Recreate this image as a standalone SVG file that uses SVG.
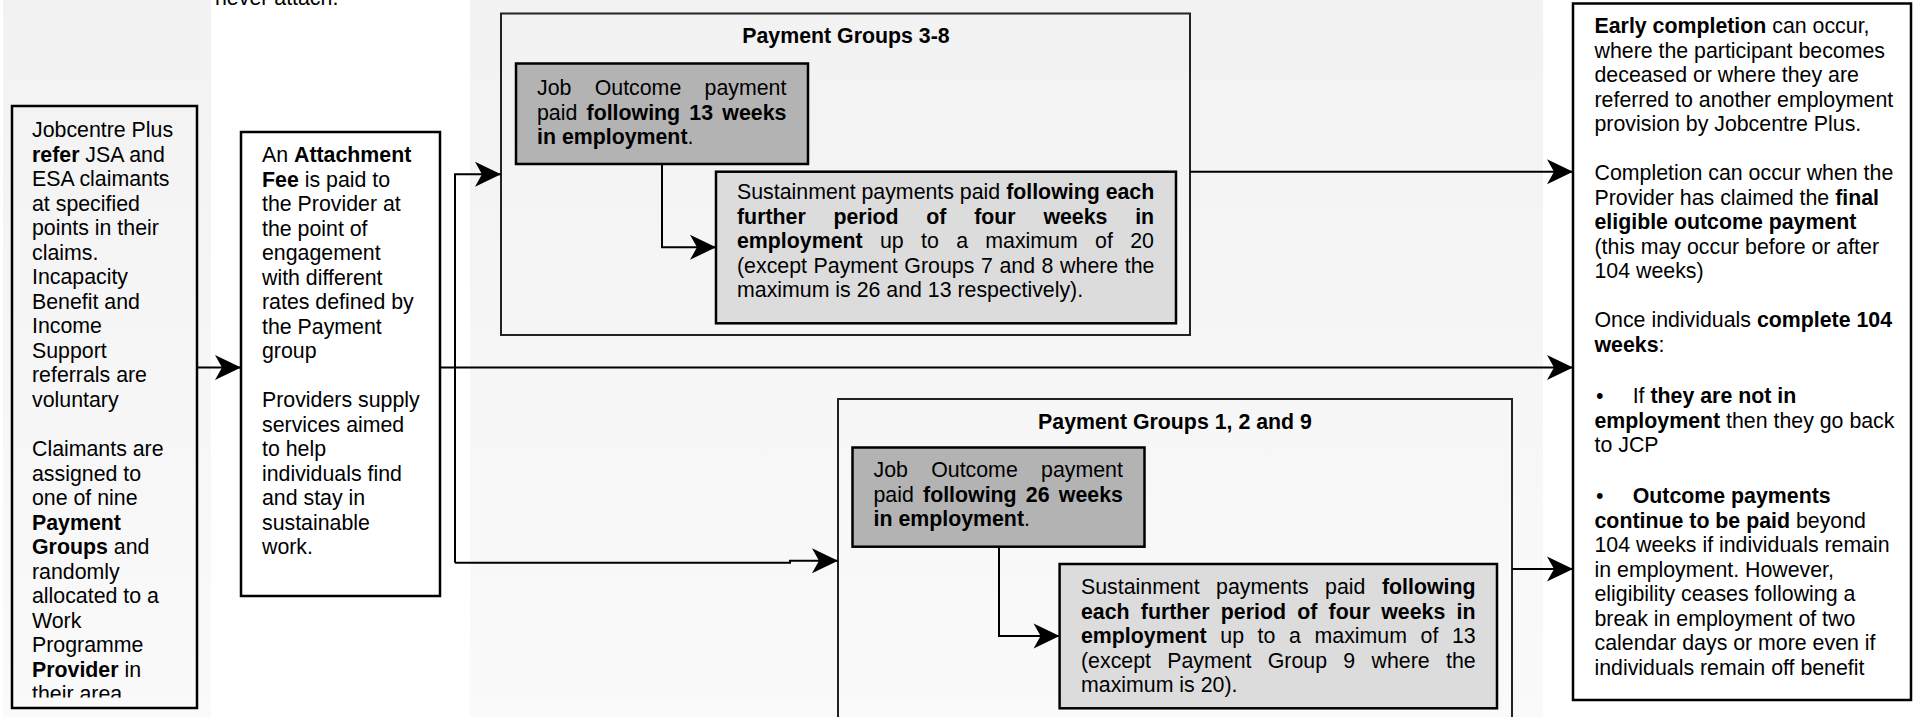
<svg xmlns="http://www.w3.org/2000/svg" width="1915" height="717" viewBox="0 0 1915 717">
<defs>
<linearGradient id="bg" x1="0" y1="0" x2="0" y2="1">
<stop offset="0" stop-color="#f2f2f2"/>
<stop offset="1" stop-color="#fafafa"/>
</linearGradient>
<marker id="arr" markerUnits="userSpaceOnUse" markerWidth="30" markerHeight="30" viewBox="-28 -15 30 30" refX="0" refY="0" orient="auto">
<path d="M0,0 L-26,-12.5 L-19,0 L-26,12.5 Z" fill="#000"/>
</marker>
<clipPath id="clip1"><rect x="12" y="106" width="185" height="591.5"/></clipPath>
</defs>
<style>
text{font-family:"Liberation Sans",Arial,Helvetica,sans-serif;font-size:21.33px;fill:#000}
.b{font-weight:bold}
.box{fill:none;stroke:#000;stroke-width:2.5}
.outer{fill:none;stroke:#222;stroke-width:2}
.job{fill:#b3b3b3;stroke:#000;stroke-width:2.5}
.sus{fill:#dcdcdc;stroke:#000;stroke-width:2.5}
.con{fill:none;stroke:#000;stroke-width:2}
.arr{marker-end:url(#arr)}
</style>
<rect x="0" y="0" width="1915" height="717" fill="#fff"/>
<rect x="3" y="0" width="208" height="717" fill="url(#bg)"/>
<rect x="470" y="0" width="1073" height="717" fill="url(#bg)"/>
<text x="215" y="5">never attach.</text>

<g id="jobcentre">
<rect class="box" x="12" y="106" width="185" height="602"/>
<g clip-path="url(#clip1)">
<text>
<tspan x="32" y="137">Jobcentre Plus</tspan>
<tspan x="32" y="161.5"><tspan class="b">refer</tspan> JSA and</tspan>
<tspan x="32" y="186.1">ESA claimants</tspan>
<tspan x="32" y="210.6">at specified</tspan>
<tspan x="32" y="235.2">points in their</tspan>
<tspan x="32" y="259.7">claims.</tspan>
<tspan x="32" y="284.2">Incapacity</tspan>
<tspan x="32" y="308.8">Benefit and</tspan>
<tspan x="32" y="333.3">Income</tspan>
<tspan x="32" y="357.9">Support</tspan>
<tspan x="32" y="382.4">referrals are</tspan>
<tspan x="32" y="406.9">voluntary</tspan>
<tspan x="32" y="456">Claimants are</tspan>
<tspan x="32" y="480.5">assigned to</tspan>
<tspan x="32" y="505">one of nine</tspan>
<tspan x="32" y="529.6" class="b">Payment</tspan>
<tspan x="32" y="554.1"><tspan class="b">Groups</tspan> and</tspan>
<tspan x="32" y="578.7">randomly</tspan>
<tspan x="32" y="603.2">allocated to a</tspan>
<tspan x="32" y="627.7">Work</tspan>
<tspan x="32" y="652.3">Programme</tspan>
<tspan x="32" y="676.8"><tspan class="b">Provider</tspan> in</tspan>
<tspan x="32" y="701.3">their area</tspan>
</text>
</g>
</g>

<g id="attachment">
<rect class="box" x="241" y="132" width="199" height="464"/>
<text>
<tspan x="262" y="162.3">An <tspan class="b">Attachment</tspan></tspan>
<tspan x="262" y="186.8"><tspan class="b">Fee</tspan> is paid to</tspan>
<tspan x="262" y="211.3">the Provider at</tspan>
<tspan x="262" y="235.8">the point of</tspan>
<tspan x="262" y="260.3">engagement</tspan>
<tspan x="262" y="284.8">with different</tspan>
<tspan x="262" y="309.3">rates defined by</tspan>
<tspan x="262" y="333.8">the Payment</tspan>
<tspan x="262" y="358.3">group</tspan>
<tspan x="262" y="407.3">Providers supply</tspan>
<tspan x="262" y="431.8">services aimed</tspan>
<tspan x="262" y="456.3">to help</tspan>
<tspan x="262" y="480.8">individuals find</tspan>
<tspan x="262" y="505.3">and stay in</tspan>
<tspan x="262" y="529.8">sustainable</tspan>
<tspan x="262" y="554.3">work.</tspan>
</text>
</g>

<g id="pg38">
<rect class="outer" x="501" y="13.5" width="689" height="321.5"/>
<text class="b" x="846" y="43.3" text-anchor="middle">Payment Groups 3-8</text>
</g>

<g id="job1">
<rect class="job" x="516" y="63.5" width="292" height="100.5"/>
<text x="537" y="95" style="word-spacing:17.4px">Job Outcome payment</text>
<text x="537" y="119.5" style="word-spacing:3.3px">paid <tspan class="b">following 13 weeks</tspan></text>
<text x="537" y="144"><tspan class="b">in employment</tspan>.</text>
</g>

<g id="sust1">
<rect class="sus" x="716" y="171.7" width="460" height="151.6"/>
<text x="737" y="199.3">Sustainment payments paid <tspan class="b">following each</tspan></text>
<text x="737" y="223.8" class="b" style="word-spacing:21.8px">further period of four weeks in</text>
<text x="737" y="248.3" style="word-spacing:11.4px"><tspan class="b">employment</tspan> up to a maximum of 20</text>
<text x="737" y="272.8" style="word-spacing:0.7px">(except Payment Groups 7 and 8 where the</text>
<text x="737" y="297.3">maximum is 26 and 13 respectively).</text>
</g>

<g id="pg129">
<rect class="outer" x="838" y="399" width="674" height="330"/>
<text class="b" x="1175" y="429.3" text-anchor="middle">Payment Groups 1, 2 and 9</text>
</g>

<g id="job2">
<rect class="job" x="852.5" y="447.5" width="292" height="99.2"/>
<text x="873.5" y="477" style="word-spacing:17.4px">Job Outcome payment</text>
<text x="873.5" y="501.5" style="word-spacing:3.3px">paid <tspan class="b">following 26 weeks</tspan></text>
<text x="873.5" y="526"><tspan class="b">in employment</tspan>.</text>
</g>

<g id="sust2">
<rect class="sus" x="1059.6" y="564" width="437.4" height="144.3"/>
<text x="1081" y="594" style="word-spacing:10.6px">Sustainment payments paid <tspan class="b">following</tspan></text>
<text x="1081" y="618.5" class="b" style="word-spacing:5.3px">each further period of four weeks in</text>
<text x="1081" y="643" style="word-spacing:7.7px"><tspan class="b">employment</tspan> up to a maximum of 13</text>
<text x="1081" y="667.5" style="word-spacing:10.4px">(except Payment Group 9 where the</text>
<text x="1081" y="692">maximum is 20).</text>
</g>

<g id="completion">
<rect class="box" x="1573" y="3.5" width="338" height="696.5"/>
<text>
<tspan x="1594.5" y="33.3"><tspan class="b">Early completion</tspan> can occur,</tspan>
<tspan x="1594.5" y="57.8">where the participant becomes</tspan>
<tspan x="1594.5" y="82.3">deceased or where they are</tspan>
<tspan x="1594.5" y="106.8">referred to another employment</tspan>
<tspan x="1594.5" y="131.3">provision by Jobcentre Plus.</tspan>
<tspan x="1594.5" y="180.3">Completion can occur when the</tspan>
<tspan x="1594.5" y="204.8">Provider has claimed the <tspan class="b">final</tspan></tspan>
<tspan x="1594.5" y="229.3" class="b">eligible outcome payment</tspan>
<tspan x="1594.5" y="253.8">(this may occur before or after</tspan>
<tspan x="1594.5" y="278.3">104 weeks)</tspan>
<tspan x="1594.5" y="327.3">Once individuals <tspan class="b">complete 104</tspan></tspan>
<tspan x="1594.5" y="351.8"><tspan class="b">weeks</tspan>:</tspan>
<tspan x="1596" y="403.3">•</tspan>
<tspan x="1632.7" y="403.3">If <tspan class="b">they are not in</tspan></tspan>
<tspan x="1594.5" y="427.8"><tspan class="b">employment</tspan> then they go back</tspan>
<tspan x="1594.5" y="452.3">to JCP</tspan>
<tspan x="1596" y="503.3">•</tspan>
<tspan x="1632.7" y="503.3" class="b">Outcome payments</tspan>
<tspan x="1594.5" y="527.8"><tspan class="b">continue to be paid</tspan> beyond</tspan>
<tspan x="1594.5" y="552.3">104 weeks if individuals remain</tspan>
<tspan x="1594.5" y="576.8">in employment. However,</tspan>
<tspan x="1594.5" y="601.3">eligibility ceases following a</tspan>
<tspan x="1594.5" y="625.8">break in employment of two</tspan>
<tspan x="1594.5" y="650.3">calendar days or more even if</tspan>
<tspan x="1594.5" y="674.8">individuals remain off benefit</tspan>
</text>
</g>

<g id="connectors">
<path class="con arr" d="M197,367.5 H241"/>
<path class="con arr" d="M440,367.5 H1573"/>
<path class="con arr" d="M455,562.7 V174.3 H501"/>
<path class="con arr" d="M455,562.7 H790 V560.7 H838"/>
<path class="con arr" d="M1190,171.7 H1573"/>
<path class="con arr" d="M1512,569 H1573"/>
<path class="con arr" d="M662,164 V247.3 H716"/>
<path class="con arr" d="M999,546.7 V636 H1059.6"/>
</g>
</svg>
